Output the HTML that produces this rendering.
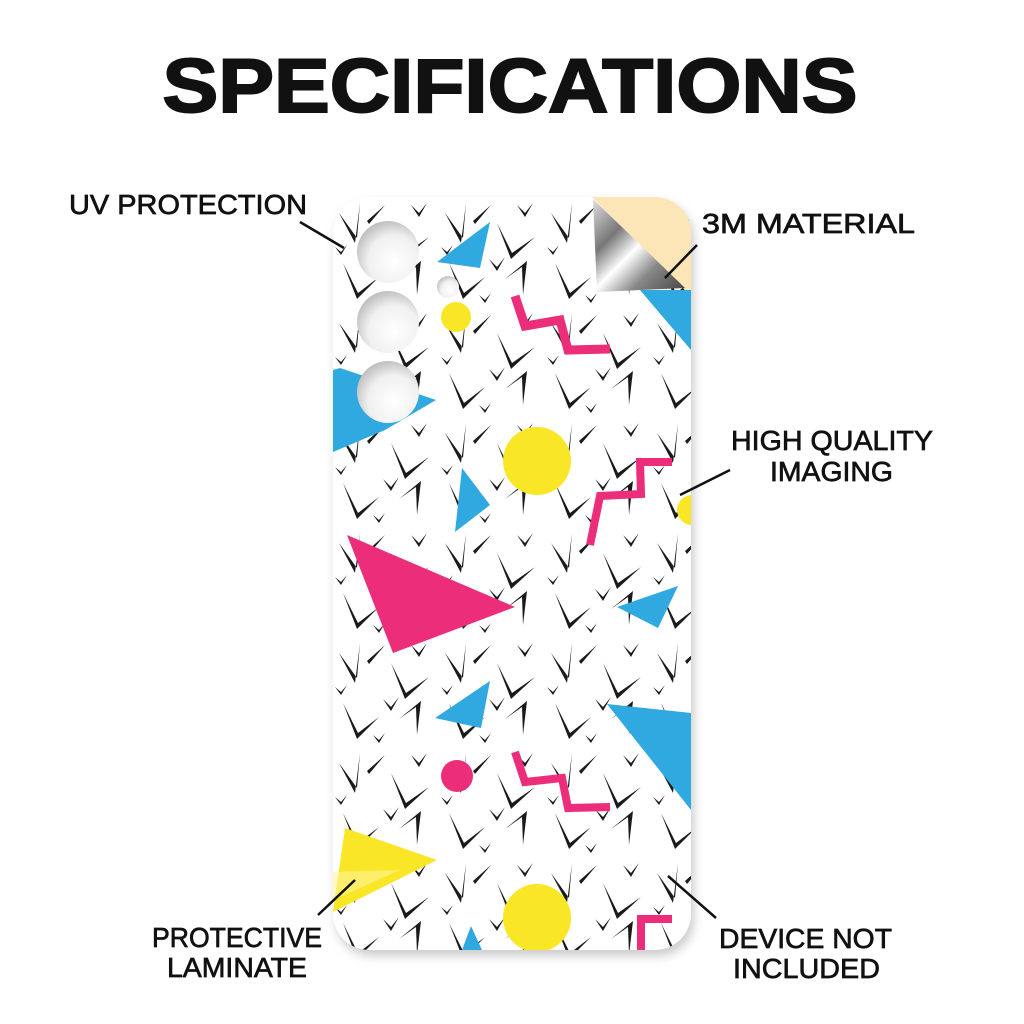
<!DOCTYPE html>
<html><head><meta charset="utf-8"><style>
html,body{margin:0;padding:0;background:#fff;width:1024px;height:1024px;overflow:hidden}
svg{display:block}
text{font-family:"Liberation Sans",sans-serif;fill:#111}
</style></head><body>
<svg width="1024" height="1024" viewBox="0 0 1024 1024" xmlns="http://www.w3.org/2000/svg">
<defs>
<filter id="sh" x="-10%" y="-10%" width="130%" height="130%"><feGaussianBlur stdDeviation="5"/></filter>
<clipPath id="ph"><rect x="333" y="197" width="358" height="753" rx="36"/></clipPath>
<radialGradient id="hole" cx="0.6" cy="0.65" r="0.7"><stop offset="0" stop-color="#fff"/><stop offset="0.6" stop-color="#f0f0f0"/><stop offset="1" stop-color="#b8b8b8"/></radialGradient>
<linearGradient id="silver" x1="0" y1="0" x2="1" y2="1"><stop offset="0" stop-color="#e0e0e0"/><stop offset="0.3" stop-color="#777"/><stop offset="0.5" stop-color="#fff"/><stop offset="0.7" stop-color="#888"/><stop offset="1" stop-color="#444"/></linearGradient>
<pattern id="pat" x="333" y="197" width="106" height="110" patternUnits="userSpaceOnUse">
<g fill="#1a1a1a">
<path d="M6 16 L22 46 L27 6 L24 41 Z"/>
<path d="M34 24 L52 8 L36 27 Z"/>
<path d="M58 26 L72 62 L96 40 L73 56 Z"/>
<path d="M78 8 L86 20 L94 6 L86 16 Z"/>
<path d="M10 66 L24 102 L46 80 L25 96 Z"/>
<path d="M50 62 L58 74 L66 60 L58 70 Z"/>
<path d="M66 82 L88 64 L84 98 L83 70 Z"/>
<path d="M2 50 L8 58 L14 48 L8 55 Z"/>
<path d="M40 98 L46 106 L52 96 L46 103 Z"/>
</g>
</pattern>
</defs>
<text x="510" y="112" text-anchor="middle" font-size="76" textLength="695" lengthAdjust="spacingAndGlyphs" font-weight="bold" stroke="#111" stroke-width="2">SPECIFICATIONS</text>

<rect x="336" y="203" width="358" height="753" rx="36" fill="#999" opacity="0.5" filter="url(#sh)"/>
<g clip-path="url(#ph)">
<rect x="333" y="197" width="358" height="753" fill="#fff"/>
<rect x="333" y="197" width="358" height="753" fill="url(#pat)"/>
<polygon points="437,262 490,222 480,268" fill="#2fa9df"/>
<polygon points="340,368 436,400 385,430 333,452 333,370" fill="#2fa9df"/>
<circle cx="388" cy="252" r="31" fill="url(#hole)"/>
<circle cx="388" cy="322" r="31" fill="url(#hole)"/>
<circle cx="388" cy="392" r="31" fill="url(#hole)"/>
<circle cx="448" cy="287" r="11" fill="url(#hole)"/>
<circle cx="456" cy="317" r="15" fill="#f9e627"/>
<polyline points="515,296 525,326 560,320 568,350 610,349" fill="none" stroke="#ec2d7a" stroke-width="9"/>
<polygon points="640,290 691,290 691,350" fill="#2fa9df"/>
<circle cx="537" cy="461" r="34" fill="#f9e627"/>
<polygon points="462,468 490,505 455,532" fill="#2fa9df"/>
<polyline points="672,462 640,462 641,494 600,496 590,545" fill="none" stroke="#ec2d7a" stroke-width="8"/>
<circle cx="692" cy="510" r="15" fill="#f9e627"/>
<polygon points="347,535 515,607 393,653" fill="#ec2d7a"/>
<polygon points="617,607 678,586 658,628" fill="#2fa9df"/>
<polygon points="435,718 490,681 481,728" fill="#2fa9df"/>
<polygon points="607,704 691,713 691,810" fill="#2fa9df"/>
<circle cx="457" cy="776" r="16" fill="#ec2d7a"/>
<polyline points="515,752 525,782 562,778 568,808 610,807" fill="none" stroke="#ec2d7a" stroke-width="8"/>
<polygon points="345,828 437,860 333,912" fill="#f9e627"/>
<polygon points="333,872 400,870 333,900" fill="#fff59a" opacity="0.6"/>
<circle cx="537" cy="918" r="34" fill="#f9e627"/>
<polygon points="462,950 471,926 482,950" fill="#2fa9df"/>
<polyline points="672,919 641,919 641,952" fill="none" stroke="#ec2d7a" stroke-width="8"/>
<path d="M592 197 L691 197 L691 290 L685 290 Z" fill="#fce5b6"/>
<polygon points="593,199 685,288 597,292" fill="url(#silver)"/>
</g>

<g stroke="#111" stroke-width="2.5">
<line x1="300" y1="222" x2="344" y2="248"/>
<line x1="697" y1="245" x2="665" y2="278"/>
<line x1="730" y1="470" x2="680" y2="495"/>
<line x1="318" y1="915" x2="355" y2="880"/>
<line x1="716" y1="918" x2="668" y2="876"/>
</g>
<g font-size="28" stroke="#111" stroke-width="0.7">
<text x="69" y="214" textLength="238" lengthAdjust="spacingAndGlyphs">UV PROTECTION</text>
<text x="702" y="233" textLength="213" lengthAdjust="spacingAndGlyphs">3M MATERIAL</text>
<text x="731" y="450" textLength="202" lengthAdjust="spacingAndGlyphs">HIGH QUALITY</text>
<text x="770" y="481" textLength="123" lengthAdjust="spacingAndGlyphs">IMAGING</text>
<text x="152" y="947" textLength="170" lengthAdjust="spacingAndGlyphs">PROTECTIVE</text>
<text x="167" y="977" textLength="140" lengthAdjust="spacingAndGlyphs">LAMINATE</text>
<text x="719" y="948" textLength="173" lengthAdjust="spacingAndGlyphs">DEVICE NOT</text>
<text x="733" y="978" textLength="147" lengthAdjust="spacingAndGlyphs">INCLUDED</text>
</g>
</svg>
</body></html>
